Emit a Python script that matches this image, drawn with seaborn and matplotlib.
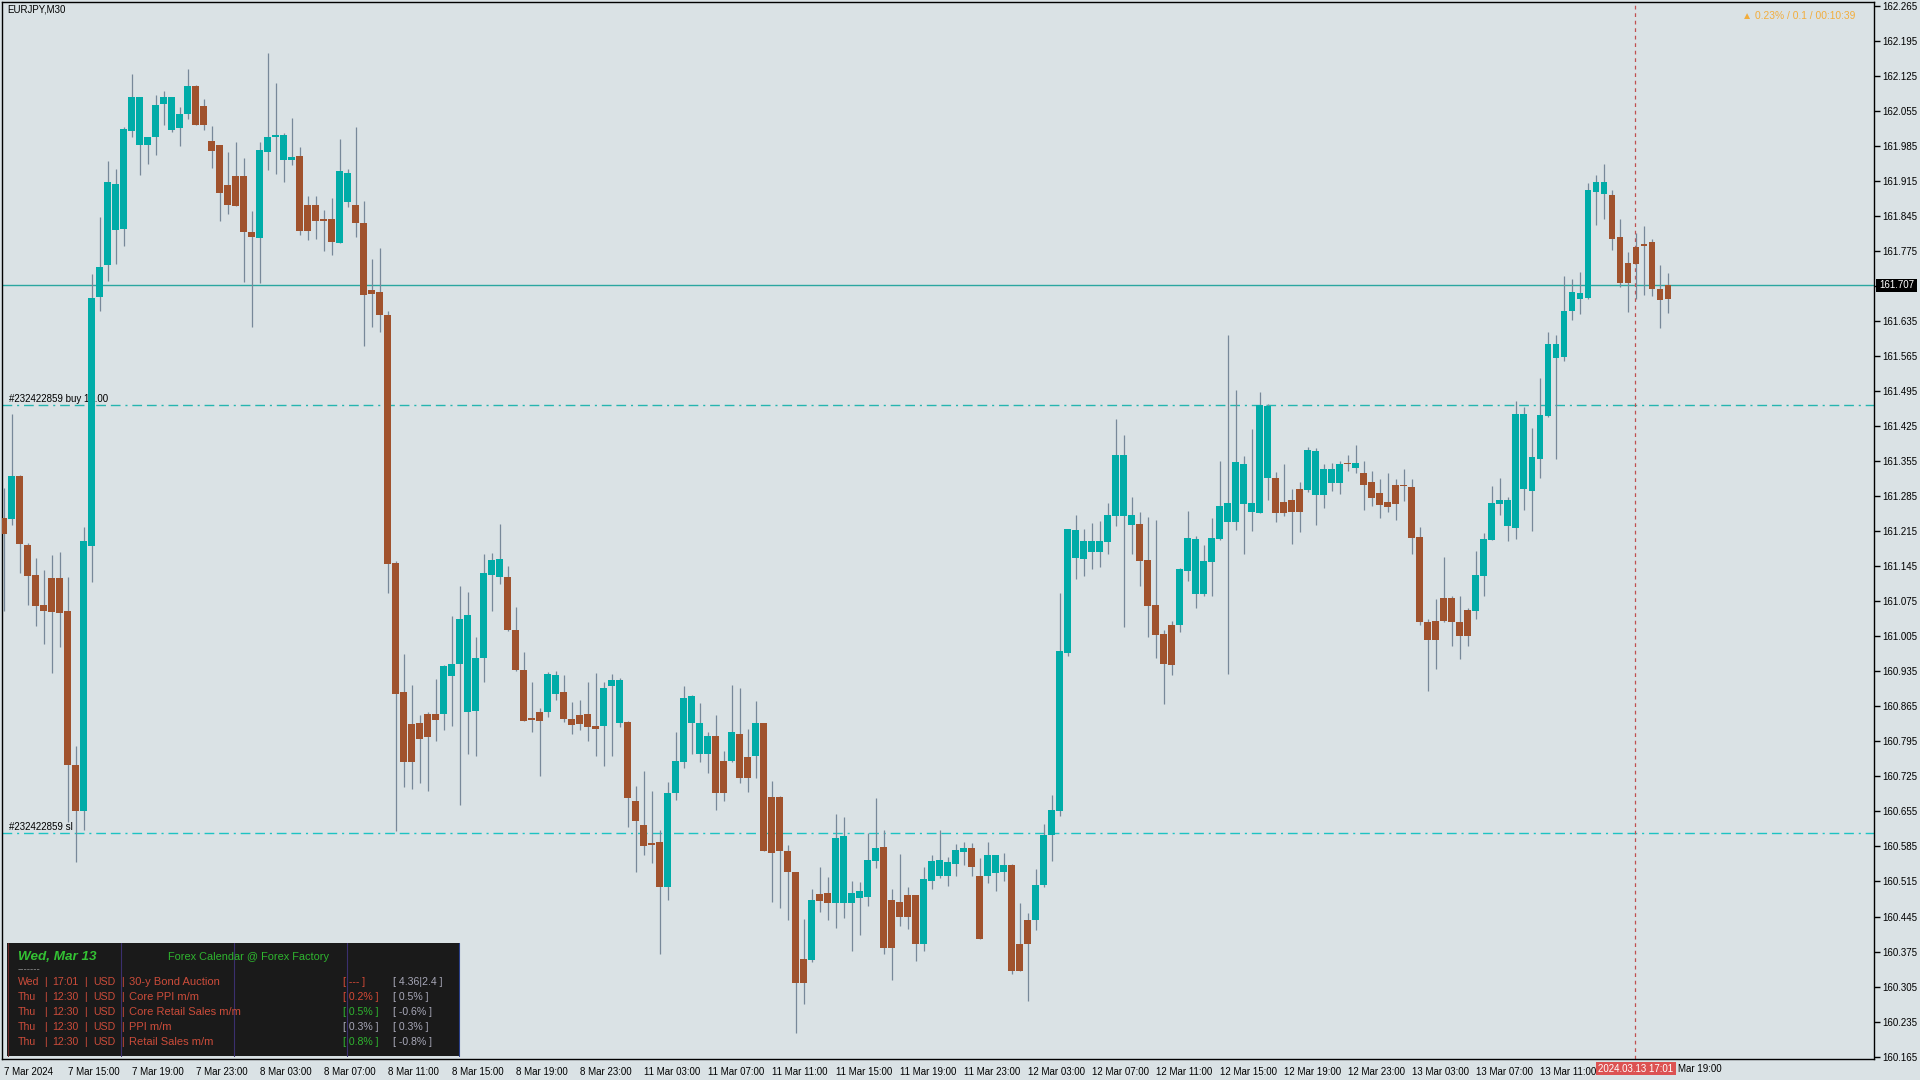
#!/usr/bin/env python3
import numpy as np
import pandas as pd
import matplotlib
matplotlib.use("Agg")
import matplotlib.pyplot as plt
from matplotlib.patches import Rectangle
from matplotlib.lines import Line2D
import seaborn as sns


# EURJPY M30 candles, 7 Mar 2024 11:00 -> 13 Mar 2024 19:00
opens = [
    161.241, 161.239, 161.325, 161.187, 161.127, 161.068, 161.122, 161.122, 161.056, 160.748,
    160.655, 161.186, 161.683, 161.746, 161.817, 161.818, 162.014, 161.986, 161.986, 162.002,
    162.068, 162.016, 162.020, 162.048, 162.105, 162.065, 161.995, 161.987, 161.907, 161.925,
    161.925, 161.813, 161.800, 161.972, 162.002, 161.957, 161.957, 161.965, 161.867, 161.867,
    161.838, 161.838, 161.790, 161.872, 161.867, 161.831, 161.697, 161.693, 161.647, 161.152,
    160.894, 160.830, 160.832, 160.850, 160.850, 160.849, 160.925, 160.949, 160.854, 160.856,
    160.961, 161.128, 161.124, 161.124, 161.018, 160.938, 160.842, 160.854, 160.853, 160.889,
    160.894, 160.840, 160.848, 160.850, 160.826, 160.825, 160.905, 160.832, 160.834, 160.676,
    160.628, 160.592, 160.594, 160.503, 160.691, 160.753, 160.831, 160.769, 160.769, 160.806,
    160.756, 160.755, 160.810, 160.764, 160.765, 160.832, 160.684, 160.684, 160.576, 160.534,
    160.361, 160.359, 160.490, 160.492, 160.473, 160.472, 160.472, 160.482, 160.484, 160.556,
    160.583, 160.479, 160.475, 160.489, 160.489, 160.390, 160.516, 160.526, 160.526, 160.550,
    160.574, 160.581, 160.525, 160.526, 160.532, 160.534, 160.547, 160.391, 160.439, 160.438,
    160.508, 160.608, 160.656, 160.972, 161.162, 161.160, 161.174, 161.174, 161.194, 161.246,
    161.246, 161.228, 161.229, 161.157, 161.067, 161.010, 161.027, 161.028, 161.136, 161.090,
    161.090, 161.154, 161.200, 161.234, 161.234, 161.270, 161.254, 161.252, 161.322, 161.322,
    161.274, 161.278, 161.300, 161.298, 161.288, 161.288, 161.312, 161.312, 161.352, 161.342,
    161.332, 161.314, 161.292, 161.274, 161.308, 161.308, 161.304, 161.204, 161.034, 161.036,
    161.082, 161.082, 161.034, 161.058, 161.056, 161.126, 161.198, 161.270, 161.226, 161.222,
    161.300, 161.296, 161.360, 161.446, 161.562, 161.564, 161.654, 161.679, 161.681, 161.893,
    161.888, 161.887, 161.802, 161.751, 161.783, 161.789, 161.793, 161.699, 161.707,
]
highs = [
    161.302, 161.450, 161.327, 161.192, 161.162, 161.138, 161.168, 161.174, 161.124, 160.786,
    161.224, 161.729, 161.843, 161.955, 161.939, 162.022, 162.129, 162.083, 162.003, 162.087,
    162.094, 162.083, 162.063, 162.139, 162.107, 162.079, 162.025, 161.987, 161.973, 161.992,
    161.961, 161.854, 161.993, 162.171, 162.111, 162.011, 162.041, 161.983, 161.885, 161.885,
    161.856, 161.881, 161.999, 161.939, 162.023, 161.875, 161.758, 161.781, 161.654, 161.156,
    160.969, 160.907, 160.848, 160.853, 160.920, 160.948, 161.046, 161.106, 161.094, 161.004,
    161.170, 161.171, 161.230, 161.146, 161.064, 160.974, 160.914, 160.861, 160.933, 160.936,
    160.928, 160.874, 160.878, 160.914, 160.932, 160.914, 160.930, 160.922, 160.836, 160.706,
    160.736, 160.696, 160.618, 160.714, 160.813, 160.906, 160.887, 160.872, 160.814, 160.848,
    160.776, 160.908, 160.902, 160.820, 160.876, 160.832, 160.716, 160.686, 160.588, 160.534,
    160.440, 160.500, 160.544, 160.524, 160.650, 160.643, 160.515, 160.513, 160.611, 160.681,
    160.617, 160.499, 160.569, 160.503, 160.489, 160.543, 160.567, 160.617, 160.563, 160.589,
    160.593, 160.591, 160.561, 160.593, 160.567, 160.571, 160.550, 160.472, 160.452, 160.539,
    160.629, 160.687, 161.092, 161.219, 161.247, 161.219, 161.231, 161.235, 161.272, 161.439,
    161.407, 161.283, 161.253, 161.244, 161.238, 161.017, 161.035, 161.142, 161.255, 161.206,
    161.187, 161.241, 161.356, 161.607, 161.497, 161.365, 161.419, 161.494, 161.469, 161.334,
    161.350, 161.300, 161.314, 161.384, 161.382, 161.350, 161.352, 161.356, 161.368, 161.388,
    161.356, 161.336, 161.320, 161.332, 161.320, 161.340, 161.320, 161.224, 161.040, 161.079,
    161.164, 161.085, 161.086, 161.061, 161.176, 161.212, 161.306, 161.322, 161.284, 161.476,
    161.464, 161.422, 161.522, 161.612, 161.606, 161.725, 161.718, 161.732, 161.911, 161.926,
    161.949, 161.897, 161.838, 161.773, 161.811, 161.825, 161.798, 161.747, 161.731,
]
lows = [
    161.055, 161.227, 161.131, 161.068, 161.026, 160.990, 160.931, 160.983, 160.634, 160.553,
    160.618, 161.113, 161.655, 161.715, 161.748, 161.784, 162.002, 161.926, 161.948, 161.966,
    162.026, 162.013, 161.984, 162.039, 162.026, 162.016, 161.940, 161.835, 161.848, 161.864,
    161.712, 161.622, 161.710, 161.936, 161.928, 161.912, 161.946, 161.806, 161.797, 161.799,
    161.775, 161.766, 161.790, 161.863, 161.802, 161.586, 161.622, 161.612, 161.091, 160.615,
    160.703, 160.700, 160.711, 160.695, 160.795, 160.818, 160.825, 160.668, 160.770, 160.765,
    160.913, 161.055, 161.110, 161.015, 160.935, 160.835, 160.813, 160.725, 160.843, 160.877,
    160.834, 160.810, 160.818, 160.795, 160.765, 160.745, 160.765, 160.823, 160.623, 160.533,
    160.568, 160.551, 160.371, 160.479, 160.677, 160.741, 160.769, 160.753, 160.731, 160.657,
    160.675, 160.753, 160.711, 160.693, 160.722, 160.575, 160.475, 160.463, 160.439, 160.212,
    160.271, 160.355, 160.455, 160.439, 160.423, 160.442, 160.376, 160.408, 160.466, 160.541,
    160.371, 160.318, 160.426, 160.420, 160.356, 160.376, 160.500, 160.522, 160.506, 160.526,
    160.548, 160.526, 160.400, 160.512, 160.496, 160.516, 160.330, 160.336, 160.276, 160.418,
    160.504, 160.556, 160.646, 160.966, 161.120, 161.126, 161.140, 161.144, 161.169, 161.226,
    161.024, 161.170, 161.106, 161.003, 160.962, 160.870, 160.928, 161.014, 161.116, 161.062,
    161.086, 161.086, 161.198, 160.930, 161.218, 161.170, 161.216, 161.252, 161.278, 161.234,
    161.245, 161.189, 161.213, 161.293, 161.227, 161.262, 161.296, 161.290, 161.336, 161.332,
    161.258, 161.266, 161.242, 161.253, 161.237, 161.276, 161.169, 161.028, 160.895, 160.940,
    161.034, 160.985, 160.959, 160.985, 161.040, 161.086, 161.198, 161.248, 161.195, 161.200,
    161.258, 161.216, 161.322, 161.444, 161.360, 161.555, 161.637, 161.648, 161.679, 161.827,
    161.838, 161.776, 161.703, 161.652, 161.679, 161.687, 161.685, 161.621, 161.650,
]
closes = [
    161.210, 161.325, 161.190, 161.126, 161.066, 161.055, 161.053, 161.051, 160.748, 160.655,
    161.196, 161.681, 161.743, 161.913, 161.909, 162.019, 162.083, 162.083, 162.003, 162.067,
    162.083, 162.083, 162.049, 162.105, 162.026, 162.026, 161.974, 161.890, 161.866, 161.864,
    161.812, 161.802, 161.976, 162.003, 162.007, 162.007, 161.963, 161.815, 161.814, 161.835,
    161.834, 161.792, 161.935, 161.931, 161.830, 161.686, 161.688, 161.646, 161.150, 160.890,
    160.753, 160.753, 160.799, 160.804, 160.837, 160.946, 160.950, 161.040, 161.048, 160.962,
    161.132, 161.158, 161.160, 161.017, 160.938, 160.836, 160.837, 160.836, 160.930, 160.928,
    160.840, 160.828, 160.829, 160.823, 160.819, 160.902, 160.918, 160.918, 160.681, 160.635,
    160.585, 160.587, 160.503, 160.692, 160.756, 160.882, 160.885, 160.832, 160.806, 160.691,
    160.691, 160.814, 160.722, 160.722, 160.832, 160.575, 160.571, 160.575, 160.533, 160.313,
    160.313, 160.478, 160.477, 160.473, 160.602, 160.605, 160.493, 160.495, 160.557, 160.581,
    160.382, 160.382, 160.444, 160.444, 160.390, 160.519, 160.555, 160.557, 160.553, 160.577,
    160.581, 160.544, 160.400, 160.567, 160.567, 160.547, 160.336, 160.336, 160.390, 160.507,
    160.607, 160.657, 160.975, 161.219, 161.217, 161.196, 161.196, 161.196, 161.247, 161.367,
    161.367, 161.247, 161.156, 161.066, 161.008, 160.950, 160.948, 161.139, 161.201, 161.199,
    161.155, 161.201, 161.266, 161.272, 161.353, 161.349, 161.272, 161.467, 161.466, 161.252,
    161.252, 161.254, 161.254, 161.378, 161.376, 161.340, 161.340, 161.350, 161.350, 161.352,
    161.308, 161.282, 161.268, 161.264, 161.270, 161.306, 161.202, 161.033, 160.998, 160.998,
    161.036, 161.033, 161.006, 161.006, 161.128, 161.200, 161.272, 161.278, 161.278, 161.449,
    161.449, 161.364, 161.448, 161.590, 161.590, 161.654, 161.692, 161.690, 161.897, 161.913,
    161.913, 161.798, 161.710, 161.710, 161.749, 161.784, 161.698, 161.676, 161.679,
]

# one time label every 8 bars (4 hours); the last two sit under the event-time box
time_labels = [
    "7 Mar 2024", "7 Mar 15:00", "7 Mar 19:00", "7 Mar 23:00", "8 Mar 03:00", "8 Mar 07:00",
    "8 Mar 11:00", "8 Mar 15:00", "8 Mar 19:00", "8 Mar 23:00", "11 Mar 03:00", "11 Mar 07:00",
    "11 Mar 11:00", "11 Mar 15:00", "11 Mar 19:00", "11 Mar 23:00", "12 Mar 03:00", "12 Mar 07:00",
    "12 Mar 11:00", "12 Mar 15:00", "12 Mar 19:00", "12 Mar 23:00", "13 Mar 03:00", "13 Mar 07:00",
    "13 Mar 11:00", "", "",
]
last_time_label = "Mar 19:00"   # "13 " is hidden behind the event box
price_ticks = [
    "162.265", "162.195", "162.125", "162.055", "161.985", "161.915", "161.845", "161.775",
    "161.705", "161.635", "161.565", "161.495", "161.425", "161.355", "161.285", "161.215",
    "161.145", "161.075", "161.005", "160.935", "160.865", "160.795", "160.725", "160.655",
    "160.585", "160.515", "160.445", "160.375", "160.305", "160.235", "160.165",
]

bid_price = 161.707
buy_price = 161.468
sl_price = 160.611
event_bar = 203.9   # 2024.03.13 17:01

calendar_rows = [
    ("Wed", "17:01", "USD", "30-y Bond Auction", "[ --- ]", "[ 4.36|2.4 ]"),
    ("Thu", "12:30", "USD", "Core PPI m/m", "[ 0.2% ]", "[ 0.5% ]"),
    ("Thu", "12:30", "USD", "Core Retail Sales m/m", "[ 0.5% ]", "[ -0.6% ]"),
    ("Thu", "12:30", "USD", "PPI m/m", "[ 0.3% ]", "[ 0.3% ]"),
    ("Thu", "12:30", "USD", "Retail Sales m/m", "[ 0.8% ]", "[ -0.8% ]"),
]
forecast_colors = ["#d84a36", "#d84a36", "#2fb52f", "#a8a8b8", "#2fb52f"]

# colours
bg = "#dae2e5"
up_color = "#00aca8"
down_color = "#a0522d"
wick_color = "#778899"

sns.set_theme(style="white", rc={"axes.facecolor": bg, "figure.facecolor": bg,
                                 "axes.edgecolor": "black", "axes.linewidth": 1.0})
plt.rcParams["font.family"] = ["Liberation Sans", "DejaVu Sans"]

W, H = 1920, 1080
fig = plt.figure(figsize=(19.2, 10.8), dpi=100)
ax = fig.add_axes([2 / W, 1 - 1059 / H, (1874 - 2) / W, (1059 - 2) / H])


def fx(x):
    return x / W


def fy(y):
    return 1 - y / H


data = pd.DataFrame({"open": opens, "high": highs, "low": lows, "close": closes})
data["bar"] = np.arange(len(data))
data["up"] = data["close"] > data["open"]
data["body_low"] = data[["open", "close"]].min(axis=1)
data["body_size"] = (data["close"] - data["open"]).abs().clip(lower=0.002)

# wicks then bodies
ax.vlines(data["bar"], data["low"], data["high"], color=wick_color, lw=0.9, zorder=2)
colors = np.where(data["up"], up_color, down_color)
ax.bar(data["bar"], data["body_size"], bottom=data["body_low"], width=0.86,
       color=colors, linewidth=0, zorder=3)

# price / order lines
ax.axhline(bid_price, color="#2aa6a0", lw=1.0, zorder=1)
ax.axhline(buy_price, color="#26b5b0", lw=1.0, ls=(0, (7, 3.5, 1.5, 3.5, 7, 3.5)), zorder=1)
ax.axhline(sl_price, color="#1ec3c3", lw=1.0, ls=(0, (7, 3.5, 1.5, 3.5, 7, 3.5)), zorder=1)
ax.axvline(event_bar, color="#c05050", lw=0.9, ls=(0, (3, 3)), zorder=1)

ax.text(fx(9), fy(399), "#232422859 buy 10.00", transform=fig.transFigure,
        fontsize=7, color="black", va="center", ha="left", zorder=1.5)
ax.text(fx(9), fy(827), "#232422859 sl", transform=fig.transFigure,
        fontsize=7, color="black", va="center", ha="left", zorder=1.5)

ax.set_xlim(-0.21, 233.75)
ax.set_ylim(160.1603, 162.2724)

ax.yaxis.tick_right()
ax.set_yticks([float(t) for t in price_ticks])
ax.set_yticklabels(price_ticks)
ax.set_xticks(np.arange(0, len(data), 8))
ax.set_xticklabels(time_labels, ha="left")
ax.tick_params(axis="y", direction="out", length=4, width=1, colors="black", labelsize=7, pad=2)
ax.tick_params(axis="x", direction="out", length=4, width=1, colors="black", labelsize=7, pad=2)
for side in ["left", "right", "top", "bottom"]:
    ax.spines[side].set_visible(True)
    ax.spines[side].set_color("black")
    ax.spines[side].set_linewidth(1.0)
ax.grid(False)

# chart captions
fig.text(fx(7), fy(10), "EURJPY,M30", fontsize=7, color="black", va="center", ha="left")
fig.text(fx(1855), fy(16), "▲ 0.23% / 0.1 / 00:10:39", fontsize=7.4, color="#f2ad3c",
         va="center", ha="right")

# current bid label on the price axis
fig.add_artist(Rectangle((fx(1876), fy(292)), 41 / W, 13 / H, transform=fig.transFigure,
                         facecolor="black", edgecolor="none", zorder=5))
fig.text(fx(1879), fy(285.5), "161.707", fontsize=7, color="white", va="center",
         ha="left", zorder=6)

# event time label on the time axis
fig.add_artist(Rectangle((fx(1596), fy(1075)), 80 / W, 13 / H, transform=fig.transFigure,
                         facecolor="#dc5252", edgecolor="none", zorder=5))
fig.text(fx(1636), fy(1068.5), "2024.03.13 17:01", fontsize=7, color="white", va="center",
         ha="center", zorder=6)
fig.text(fx(1678), fy(1068.5), last_time_label, fontsize=7, color="black", va="center",
         ha="left", zorder=6)

# Forex Factory calendar panel
fig.add_artist(Rectangle((fx(7), fy(1056)), (460 - 7) / W, (1056 - 943) / H,
                         transform=fig.transFigure, facecolor="#1a1a1a", edgecolor="none", zorder=5))
for x_line, c_line in [(8, "#6b2a2a"), (121, "#3b2f6e"), (234, "#3b2f6e"), (347, "#3b2f6e"), (459, "#2a3f8a")]:
    fig.add_artist(Line2D([fx(x_line), fx(x_line)], [fy(943), fy(1056)], transform=fig.transFigure,
                          color=c_line, lw=0.8, zorder=6))

fig.text(fx(18), fy(957), "Wed, Mar 13", fontsize=9.7, fontweight="bold", fontstyle="italic",
         color="#33c233", va="center", ha="left", zorder=7)
fig.text(fx(18), fy(969), "-------", fontsize=7, color="#8a8a8a", va="center", ha="left", zorder=7)
fig.text(fx(168), fy(957), "Forex Calendar @ Forex Factory", fontsize=7.9, color="#2fb52f",
         va="center", ha="left", zorder=7)

row_color = "#cc4c3a"
for k, (day, hour, cur, event, forecast, previous) in enumerate(calendar_rows):
    y_row = 982 + 15 * k
    for x_cell, s in [(18, day), (44, "|"), (52, hour), (84, "|"), (93, cur), (121, "|")]:
        fig.text(fx(x_cell), fy(y_row), s, fontsize=7.6, color=row_color, va="center",
                 ha="left", zorder=7)
    fig.text(fx(129), fy(y_row), event, fontsize=8.0, color=row_color, va="center",
             ha="left", zorder=7)
    fig.text(fx(343), fy(y_row), forecast, fontsize=7.6, color=forecast_colors[k], va="center",
             ha="left", zorder=7)
    fig.text(fx(393), fy(y_row), previous, fontsize=7.6, color="#a8a8b8", va="center",
             ha="left", zorder=7)

fig.savefig("out.png", dpi=100, facecolor=bg)
plt.close(fig)
